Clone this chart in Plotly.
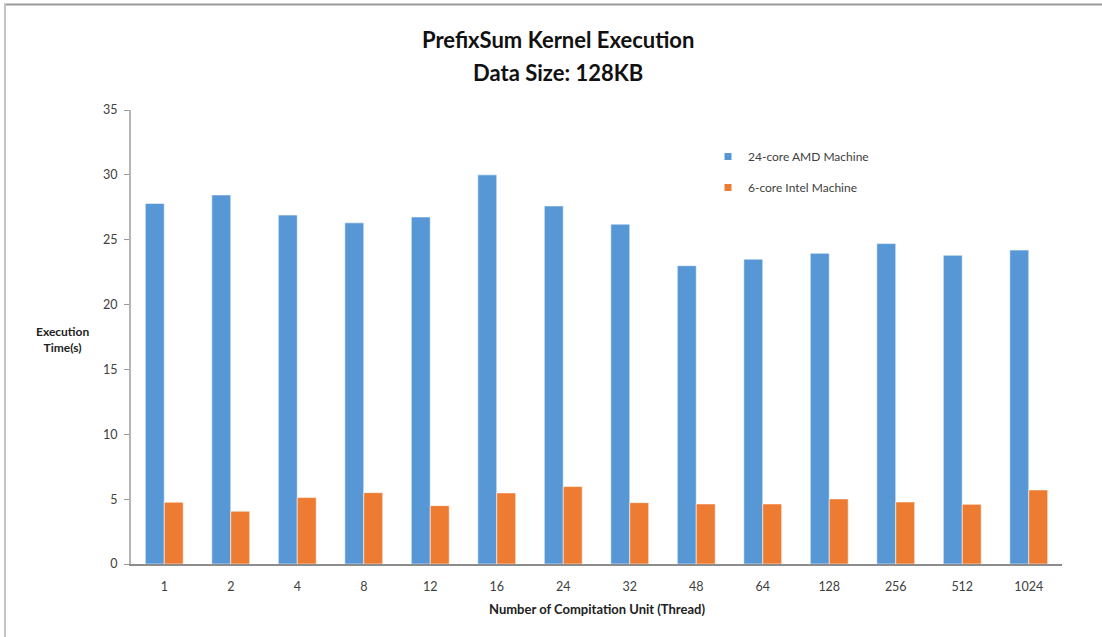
import plotly.graph_objects as go

# Thread counts on the x axis (categorical)
threads = ["1", "2", "4", "8", "12", "16", "24", "32", "48", "64", "128", "256", "512", "1024"]

# Execution time in seconds per machine
amd_24core = [27.8, 28.45, 26.9, 26.3, 26.75, 30.0, 27.6, 26.2, 23.0, 23.5, 23.95, 24.7, 23.8, 24.2]
intel_6core = [4.76, 4.07, 5.12, 5.5, 4.5, 5.48, 5.97, 4.73, 4.63, 4.63, 5.02, 4.78, 4.6, 5.71]

series_names = ["24-core AMD Machine", "6-core Intel Machine"]
blue = "#5797d6"
orange = "#ed7b31"

FONT = "Lato, 'Open Sans', sans-serif"
W, H = 1102, 637
ML, MR, MT, MB = 131, 40, 110, 73
PW, PH = W - ML - MR, H - MT - MB


def px_x(x):
    return (x - ML) / PW


def px_y(y):
    return (H - MB - y) / PH


fig = go.Figure()

for name, vals, col in [(series_names[0], amd_24core, blue), (series_names[1], intel_6core, orange)]:
    fig.add_trace(go.Bar(
        x=threads, y=vals, name=name, showlegend=False,
        marker=dict(color=col, line=dict(color="rgba(255,255,255,0.55)", width=1)),
    ))
    # small square legend key
    fig.add_trace(go.Scatter(
        x=[None], y=[None], mode="markers", name=name, legendgroup=name,
        marker=dict(symbol="square", size=7, color=col),
    ))

fig.update_layout(
    width=W, height=H,
    margin=dict(l=ML, r=MR, t=MT, b=MB),
    paper_bgcolor="white", plot_bgcolor="white",
    barmode="group", bargap=0.43, bargroupgap=0,
    font=dict(family=FONT, size=12, color="#404040"),
    legend=dict(
        x=px_x(708), y=px_y(142), xanchor="left", yanchor="top",
        traceorder="grouped", tracegroupgap=12,
        font=dict(family=FONT, size=12, color="#404040"),
        bgcolor="rgba(0,0,0,0)",
    ),
    xaxis=dict(
        type="category", showgrid=False, zeroline=False,
        showline=True, linecolor="#8c8c8c", linewidth=1.5,
        ticks="", ticklabelstandoff=10,
        tickfont=dict(family=FONT, size=12.5, color="#404040"),
    ),
    yaxis=dict(
        range=[0, 35], dtick=5, showgrid=False, zeroline=False,
        showline=True, linecolor="#b5b5b5", linewidth=2,
        ticks="outside", ticklen=5, tickcolor="#9a9a9a", tickwidth=1,
        ticklabelstandoff=4,
        tickfont=dict(family=FONT, size=12.5, color="#404040"),
    ),
    showlegend=True,
)

# Chart titles
for text, ypix in [("<b>PrefixSum Kernel Execution</b>", 40), ("<b>Data Size: 128KB</b>", 73)]:
    fig.add_annotation(text=text, xref="paper", yref="paper",
                       x=px_x(558), y=px_y(ypix), xanchor="center", yanchor="middle",
                       showarrow=False, font=dict(family=FONT, size=22, color="#111111"))

# Axis titles
fig.add_annotation(text="<b>Execution<br>Time(s)</b>", xref="paper", yref="paper",
                   x=px_x(62), y=px_y(339), xanchor="center", yanchor="middle",
                   showarrow=False, font=dict(family=FONT, size=12, color="#222222"))
fig.add_annotation(text="<b>Number of Compitation Unit (Thread)</b>", xref="paper", yref="paper",
                   x=px_x(597), y=px_y(609), xanchor="center", yanchor="middle",
                   showarrow=False, font=dict(family=FONT, size=13, color="#222222"))

# Chart frame (top and left edges)
fig.add_shape(type="line", xref="paper", yref="paper",
              x0=px_x(4), x1=px_x(W + 5), y0=px_y(4.5), y1=px_y(4.5),
              line=dict(color="#9a9a9a", width=2))
fig.add_shape(type="line", xref="paper", yref="paper",
              x0=px_x(5), x1=px_x(5), y0=px_y(4), y1=px_y(H + 5),
              line=dict(color="#c4c4c4", width=2))

fig.write_html("out.html")
